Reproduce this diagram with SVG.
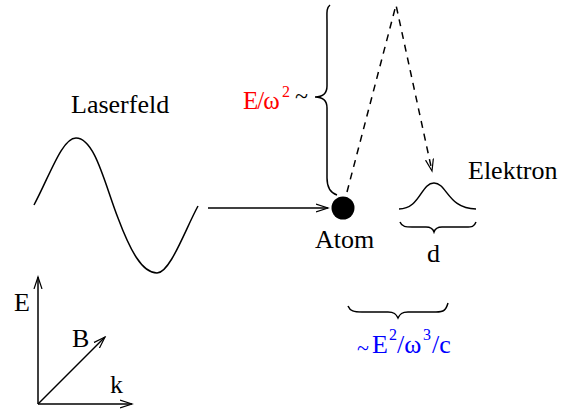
<svg xmlns="http://www.w3.org/2000/svg" width="561" height="410" viewBox="0 0 561 410">
<defs>
<marker id="open" markerWidth="14" markerHeight="10" refX="12" refY="5" orient="auto" markerUnits="userSpaceOnUse">
<path d="M0,1 L12,5 L0,9" fill="none" stroke="#000" stroke-width="1.2"/>
</marker>
</defs>
<style>
text{font-family:"Liberation Serif","Times New Roman",serif;font-size:26px;fill:#000}
.sup{font-size:16px}
.ln{fill:none;stroke:#000;stroke-width:1.5}
.red{fill:#ff0000}
.blue{fill:#0000ff}
</style>
<rect width="561" height="410" fill="#fff"/>
<g id="laserfeld">
<path class="ln" d="M34,205 C50,175 62,138 76,138 C95,138 105,185 118,218 C130,250 142,273 157,273 C170,273 185,230 198,206"/>
<text x="71" y="113">Laserfeld</text>
</g>
<g id="atom">
<circle cx="343" cy="208" r="11.5" fill="#000"/>
<text x="315" y="248">Atom</text>
</g>
<g id="elektron">
<path class="ln" d="M399,209 C420,209 421,183 434,183 C447,183 448,209 476,209"/>
<text x="468" y="179">Elektron</text>
</g>
<g id="brace-left">
<path class="ln" d="M330,5 C326,8 327,14 327,22 L327,86 C327,94 322,97 315,97 C322,97 327,100 327,108 L327,178 C327,188 331,193 337,195"/>
<text class="red" x="243" y="109" style="font-size:25px;letter-spacing:-1px">E/ω</text>
<text class="red" x="282" y="97" style="font-size:16px">2</text>
<text x="295" y="104" style="font-size:24px">~</text>
</g>
<g id="brace-d">
<path class="ln" d="M400,222 C402,227 406,227 412,227 L426,227 C431,227 433,229 434,232 C435,229 437,227 442,227 L466,227 C472,227 474,227 476,222"/>
<text x="427" y="262">d</text>
</g>
<g id="brace-bottom">
<path class="ln" d="M348,306 C350,311 354,312 362,312 L388,312 C394,312 396,314 398,318 C400,314 402,312 408,312 L436,312 C444,312 446,310 448,303"/>
<text class="blue" x="357" y="355" style="font-size:22px">~</text>
<text class="blue" x="372" y="353">E</text>
<text class="blue sup" x="389" y="340">2</text>
<text class="blue" x="397" y="353">/ω</text>
<text class="blue sup" x="423" y="340">3</text>
<text class="blue" x="432" y="353">/c</text>
</g>
<g id="axes">
<text x="14" y="311">E</text>
<text x="72" y="347">B</text>
<text x="110" y="393">k</text>
</g>
<g id="connectors">
<line class="ln" x1="208" y1="208" x2="328" y2="208" marker-end="url(#open)"/>
<polyline class="ln" points="347,192 396,5 432,171" stroke-dasharray="7,6" marker-end="url(#open)"/>
<line class="ln" x1="38" y1="404" x2="38" y2="277" marker-end="url(#open)"/>
<line class="ln" x1="38" y1="404" x2="132" y2="404" marker-end="url(#open)"/>
<line class="ln" x1="38" y1="404" x2="105" y2="337" marker-end="url(#open)"/>
</g>
</svg>
